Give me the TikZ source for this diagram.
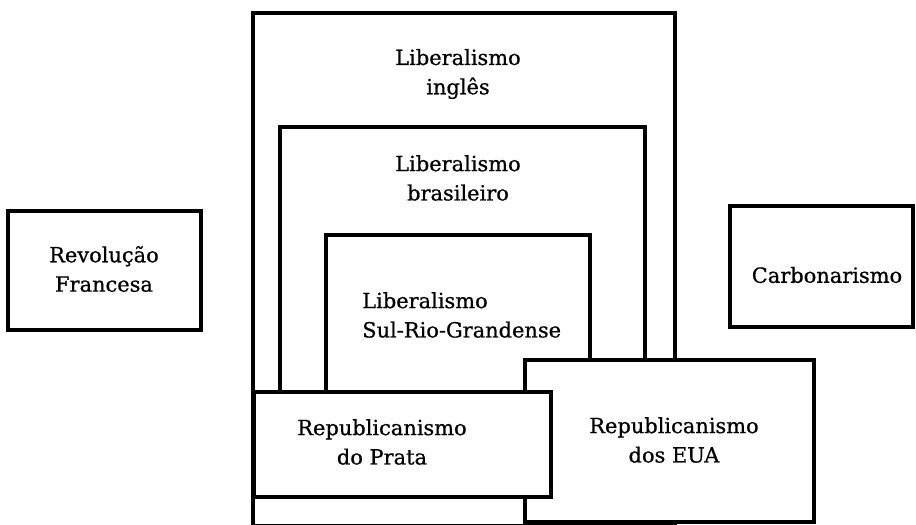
\documentclass[tikz,border=0pt]{standalone}
\usepackage{fontspec}
\setmainfont{DejaVu Serif}
\newfontfamily\boxfont{DejaVu Serif}[FakeBold=0.7]
\usepackage{tikz}

\begin{document}
\begin{tikzpicture}[x=0.75pt,y=-0.75pt,
	box/.style={draw,line width=2.6pt,fill=white},
	txt/.style={align=center,inner sep=0pt,font=\boxfont\fontsize{15.7}{22}\selectfont}]
	\useasboundingbox (0,0) rectangle (916,524);
	\clip (0,0) rectangle (916,524);
	\draw[box] (253,13) rectangle (675,526);
	\draw[box] (280,127) rectangle (645,450);
	\draw[box] (326,235) rectangle (590,450);
	\draw[box] (525,360) rectangle (814,522);
	\draw[box] (254,392) rectangle (551,497);
	\draw[box] (8,211) rectangle (201,330);
	\draw[box] (730,206) rectangle (913,327);
	\node[txt] (ingles) at (458,74) {Liberalismo\\inglês};
	\node[txt] (brasileiro) at (458,178) {Liberalismo\\brasileiro};
	\node[txt,align=left,anchor=west] (sulrio) at (362,315) {Liberalismo\\Sul-Rio-Grandense};
	\node[txt] (revolucao) at (104,269) {Revolução\\Francesa};
	\node[txt] (carbonarismo) at (827,275) {Carbonarismo};
	\node[txt] (prata) at (382,442) {Republicanismo\\do Prata};
	\node[txt] (eua) at (674,440) {Republicanismo\\dos EUA};
\end{tikzpicture}
\end{document}
